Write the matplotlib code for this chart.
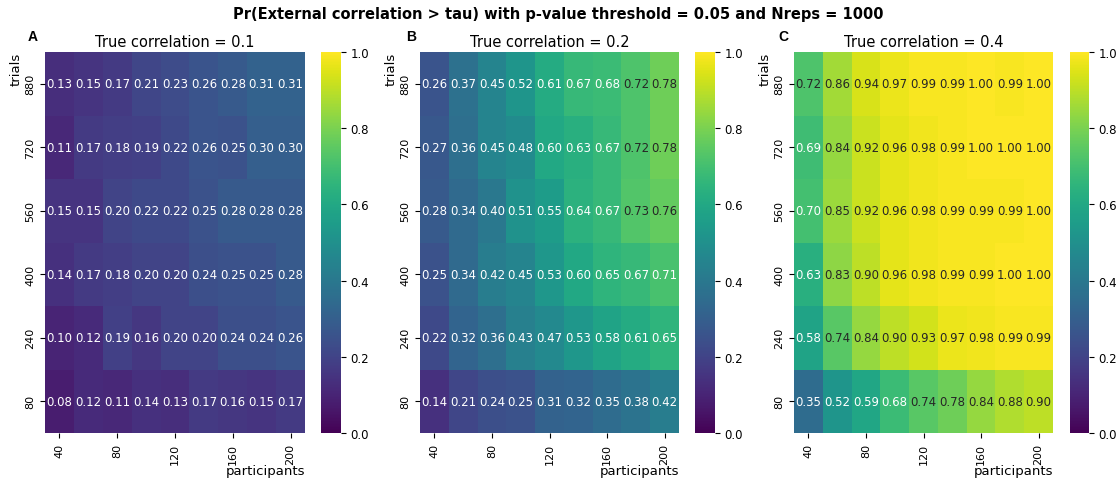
import matplotlib
matplotlib.use("Agg")
import matplotlib.pyplot as plt
import numpy as np
import seaborn as sns

# Data: probability tables, rows = trials (top to bottom), cols = participants
participants = [40, 60, 80, 100, 120, 140, 160, 180, 200]
trials = [880, 720, 560, 400, 240, 80]
true_corrs = [0.1, 0.2, 0.4]
panel_letters = ["A", "B", "C"]

prob_r01 = [
    [0.13, 0.15, 0.17, 0.21, 0.23, 0.26, 0.28, 0.31, 0.31],
    [0.11, 0.17, 0.18, 0.19, 0.22, 0.26, 0.25, 0.30, 0.30],
    [0.15, 0.15, 0.20, 0.22, 0.22, 0.25, 0.28, 0.28, 0.28],
    [0.14, 0.17, 0.18, 0.20, 0.20, 0.24, 0.25, 0.25, 0.28],
    [0.10, 0.12, 0.19, 0.16, 0.20, 0.20, 0.24, 0.24, 0.26],
    [0.08, 0.12, 0.11, 0.14, 0.13, 0.17, 0.16, 0.15, 0.17],
]
prob_r02 = [
    [0.26, 0.37, 0.45, 0.52, 0.61, 0.67, 0.68, 0.72, 0.78],
    [0.27, 0.36, 0.45, 0.48, 0.60, 0.63, 0.67, 0.72, 0.78],
    [0.28, 0.34, 0.40, 0.51, 0.55, 0.64, 0.67, 0.73, 0.76],
    [0.25, 0.34, 0.42, 0.45, 0.53, 0.60, 0.65, 0.67, 0.71],
    [0.22, 0.32, 0.36, 0.43, 0.47, 0.53, 0.58, 0.61, 0.65],
    [0.14, 0.21, 0.24, 0.25, 0.31, 0.32, 0.35, 0.38, 0.42],
]
prob_r04 = [
    [0.72, 0.86, 0.94, 0.97, 0.99, 0.99, 1.00, 0.99, 1.00],
    [0.69, 0.84, 0.92, 0.96, 0.98, 0.99, 1.00, 1.00, 1.00],
    [0.70, 0.85, 0.92, 0.96, 0.98, 0.99, 0.99, 0.99, 1.00],
    [0.63, 0.83, 0.90, 0.96, 0.98, 0.99, 0.99, 1.00, 1.00],
    [0.58, 0.74, 0.84, 0.90, 0.93, 0.97, 0.98, 0.99, 0.99],
    [0.35, 0.52, 0.59, 0.68, 0.74, 0.78, 0.84, 0.88, 0.90],
]
tables = [prob_r01, prob_r02, prob_r04]

W, H = 1117, 481
fig = plt.figure(figsize=(W / 100, H / 100), dpi=100)

# pixel boxes: heatmap left/right, colorbar left/right
hm_x = [(45, 305), (420, 679), (794, 1053)]
cb_x = [(321, 341), (695, 715), (1070, 1089)]
top, bottom = 53, 434
letter_x = [28, 406, 778]

def box(x0, x1):
    return [x0 / W, 1 - bottom / H, (x1 - x0) / W, (bottom - top) / H]

for i in range(3):
    ax = fig.add_axes(box(*hm_x[i]))
    cax = fig.add_axes(box(*cb_x[i]))
    data = np.array(tables[i])
    sns.heatmap(data, ax=ax, cbar_ax=cax, cmap="viridis",
                vmin=0, vmax=1, annot=True, fmt=".2f",
                annot_kws={"fontsize": 8.5},
                xticklabels=participants, yticklabels=trials)
    # text colour: dark on light cells
    for txt, v in zip(ax.texts, data.ravel()):
        txt.set_color("#262626" if v > 0.715 else "white")
    ax.set_xticks(np.arange(0, 9, 2) + 0.5)
    ax.set_xticklabels(participants[::2], rotation=90, fontsize=8)
    ax.set_yticklabels(trials, rotation=90, fontsize=8, va="center")
    ax.set_title(f"True correlation = {true_corrs[i]}", fontsize=10.5, pad=4)
    ax.set_xlabel("participants", loc="right", fontsize=9.5, labelpad=0)
    ax.set_ylabel("trials", loc="top", fontsize=9.5, labelpad=2)
    cax.tick_params(labelsize=8.5)
    cax.set_yticks([0, 0.2, 0.4, 0.6, 0.8, 1.0])
    fig.text(letter_x[i] / W, 1 - 37 / H, panel_letters[i], fontsize=10,
             fontweight="bold", family="Liberation Sans", va="center")

fig.text(0.5, 1 - 14 / H,
         "Pr(External correlation > tau) with p-value threshold = 0.05 and Nreps = 1000",
         ha="center", va="center", fontsize=10.5, fontweight="bold")

fig.savefig("out.png", dpi=100)
